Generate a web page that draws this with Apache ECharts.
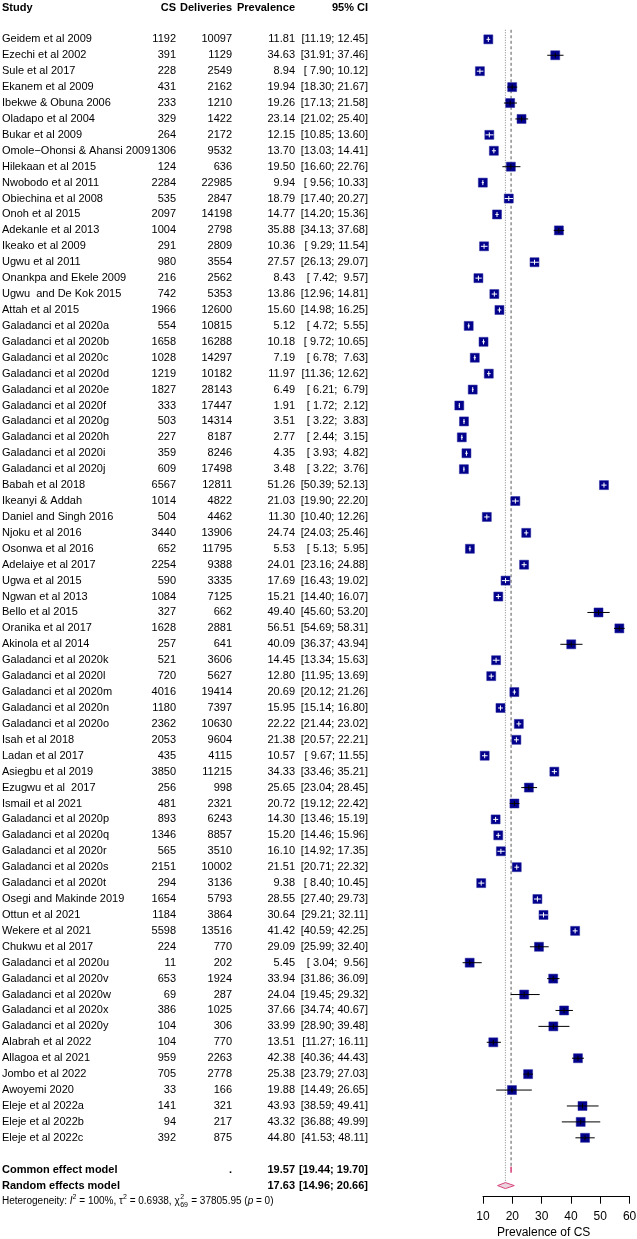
<!DOCTYPE html>
<html><head><meta charset="utf-8">
<script src="https://cdn.jsdelivr.net/npm/echarts@6/dist/echarts.min.js"></script>
<style>html,body{margin:0;padding:0;background:#fff}#c{width:637px;height:1239px}</style>
</head><body><div id="c"></div>
<script>
const studies = ["Geidem et al 2009","Ezechi et al 2002","Sule et al 2017","Ekanem et al 2009","Ibekwe & Obuna 2006","Oladapo et al 2004","Bukar et al 2009","Omole\u2212Ohonsi & Ahansi 2009","Hilekaan et al 2015","Nwobodo et al 2011","Obiechina et al 2008","Onoh et al 2015","Adekanle et al 2013","Ikeako et al 2009","Ugwu et al 2011","Onankpa and Ekele 2009","Ugwu  and De Kok 2015","Attah et al 2015","Galadanci et al 2020a","Galadanci et al 2020b","Galadanci et al 2020c","Galadanci et al 2020d","Galadanci et al 2020e","Galadanci et al 2020f","Galadanci et al 2020g","Galadanci et al 2020h","Galadanci et al 2020i","Galadanci et al 2020j","Babah et al 2018","Ikeanyi & Addah","Daniel and Singh 2016","Njoku et al 2016","Osonwa et al 2016","Adelaiye et al 2017","Ugwa et al 2015","Ngwan et al 2013","Bello et al 2015","Oranika et al 2017","Akinola et al 2014","Galadanci et al 2020k","Galadanci et al 2020l","Galadanci et al 2020m","Galadanci et al 2020n","Galadanci et al 2020o","Isah et al 2018","Ladan et al 2017","Asiegbu et al 2019","Ezugwu et al  2017","Ismail et al 2021","Galadanci et al 2020p","Galadanci et al 2020q","Galadanci et al 2020r","Galadanci et al 2020s","Galadanci et al 2020t","Osegi and Makinde 2019","Ottun et al 2021","Wekere et al 2021","Chukwu et al 2017","Galadanci et al 2020u","Galadanci et al 2020v","Galadanci et al 2020w","Galadanci et al 2020x","Galadanci et al 2020y","Alabrah et al 2022","Allagoa et al 2021","Jombo et al 2022","Awoyemi 2020","Eleje et al 2022a","Eleje et al 2022b","Eleje et al 2022c"];
const csCounts = [1192,391,228,431,233,329,264,1306,124,2284,535,2097,1004,291,980,216,742,1966,554,1658,1028,1219,1827,333,503,227,359,609,6567,1014,504,3440,652,2254,590,1084,327,1628,257,521,720,4016,1180,2362,2053,435,3850,256,481,893,1346,565,2151,294,1654,1184,5598,224,11,653,69,386,104,104,959,705,33,141,94,392];
const deliveries = [10097,1129,2549,2162,1210,1422,2172,9532,636,22985,2847,14198,2798,2809,3554,2562,5353,12600,10815,16288,14297,10182,28143,17447,14314,8187,8246,17498,12811,4822,4462,13906,11795,9388,3335,7125,662,2881,641,3606,5627,19414,7397,10630,9604,4115,11215,998,2321,6243,8857,3510,10002,3136,5793,3864,13516,770,202,1924,287,1025,306,770,2263,2778,166,321,217,875];
const prevalence = [11.81,34.63,8.94,19.94,19.26,23.14,12.15,13.70,19.50,9.94,18.79,14.77,35.88,10.36,27.57,8.43,13.86,15.60,5.12,10.18,7.19,11.97,6.49,1.91,3.51,2.77,4.35,3.48,51.26,21.03,11.30,24.74,5.53,24.01,17.69,15.21,49.40,56.51,40.09,14.45,12.80,20.69,15.95,22.22,21.38,10.57,34.33,25.65,20.72,14.30,15.20,16.10,21.51,9.38,28.55,30.64,41.42,29.09,5.45,33.94,24.04,37.66,33.99,13.51,42.38,25.38,19.88,43.93,43.32,44.80];
const ciLower = [11.19,31.91,7.90,18.30,17.13,21.02,10.85,13.03,16.60,9.56,17.40,14.20,34.13,9.29,26.13,7.42,12.96,14.98,4.72,9.72,6.78,11.36,6.21,1.72,3.22,2.44,3.93,3.22,50.39,19.90,10.40,24.03,5.13,23.16,16.43,14.40,45.60,54.69,36.37,13.34,11.95,20.12,15.14,21.44,20.57,9.67,33.46,23.04,19.12,13.46,14.46,14.92,20.71,8.40,27.40,29.21,40.59,25.99,3.04,31.86,19.45,34.74,28.90,11.27,40.36,23.79,14.49,38.59,36.88,41.53];
const ciUpper = [12.45,37.46,10.12,21.67,21.58,25.40,13.60,14.41,22.76,10.33,20.27,15.36,37.68,11.54,29.07,9.57,14.81,16.25,5.55,10.65,7.63,12.62,6.79,2.12,3.83,3.15,4.82,3.76,52.13,22.20,12.26,25.46,5.95,24.88,19.02,16.07,53.20,58.31,43.94,15.63,13.69,21.26,16.80,23.02,22.21,11.55,35.21,28.45,22.42,15.19,15.96,17.35,22.32,10.45,29.73,32.11,42.25,32.40,9.56,36.09,29.32,40.67,39.48,16.11,44.43,27.03,26.65,49.41,49.99,48.11];
const pooledLabels = ["Common effect model","Random effects model"];
const pooledEst = [19.57, 17.63];
const pooledLower = [19.44, 14.96];
const pooledUpper = [19.70, 20.66];
const headers = ["Study","CS","Deliveries","Prevalence","95% CI"];
const xTickMin = 10, xTickMax = 60, xTickStep = 10;
const xAxisTitle = "Prevalence of CS";

const FAM = '"Liberation Sans", Arial, Helvetica, sans-serif';
const F = 'normal 11px ' + FAM, FB = 'bold 11px ' + FAM;
const COL = {study: 2, cs: 176, del: 232, prev: 295, ci: 368};
const nS = studies.length;
const commonRow = nS + 2, randomRow = nS + 3, hetRow = nS + 4;
const f2 = v => v.toFixed(2);
const pad = v => (v < 10 ? ' ' : '') + f2(v);
const ciText = (l, h) => '[' + pad(l) + '; ' + pad(h) + ']';

const mctx = document.createElement('canvas').getContext('2d');
const tw = (font, s) => { mctx.font = font; return mctx.measureText(s).width; };

function txt(x, y, s, font, align) {
  return {type: 'text', style: {x: x, y: y, text: s, font: font, fill: '#000',
    align: align, textAlign: align, verticalAlign: 'middle', textVerticalAlign: 'middle'}};
}

const tableData = [[0, -1]];
studies.forEach((s, i) => tableData.push([0, i + 1]));
tableData.push([0, commonRow], [0, randomRow], [0, hetRow]);

function renderTable(params, api) {
  const r = api.value(1);
  const y = api.coord([0, r])[1];
  const X = v => api.coord([v, r])[0];
  const k = params.dataIndex;
  const ch = [];
  if (k === 0) {
    ch.push(txt(X(COL.study), y, headers[0], FB, 'left'));
    ch.push(txt(X(COL.cs), y, headers[1], FB, 'right'));
    ch.push(txt(X(COL.del), y, headers[2], FB, 'right'));
    ch.push(txt(X(COL.prev), y, headers[3], FB, 'right'));
    ch.push(txt(X(COL.ci), y, headers[4], FB, 'right'));
  } else if (k <= nS) {
    const i = k - 1;
    ch.push(txt(X(COL.study), y, studies[i], F, 'left'));
    ch.push(txt(X(COL.cs), y, String(csCounts[i]), F, 'right'));
    ch.push(txt(X(COL.del), y, String(deliveries[i]), F, 'right'));
    ch.push(txt(X(COL.prev), y, f2(prevalence[i]), F, 'right'));
    ch.push(txt(X(COL.ci), y, ciText(ciLower[i], ciUpper[i]), F, 'right'));
  } else if (k <= nS + 2) {
    const j = k - nS - 1;
    ch.push(txt(X(COL.study), y, pooledLabels[j], FB, 'left'));
    if (j === 0) ch.push(txt(X(COL.del), y, '.', FB, 'right'));
    ch.push(txt(X(COL.prev), y, f2(pooledEst[j]), FB, 'right'));
    ch.push(txt(X(COL.ci), y, ciText(pooledLower[j], pooledUpper[j]), FB, 'right'));
  } else {
    const n10 = 'normal 10px ' + FAM, i10 = 'italic 10px ' + FAM, s7 = 'normal 7px ' + FAM;
    let x = X(COL.study);
    const seq = [
      ['Heterogeneity: ', n10, 0], ['I', i10, 0], ['2', s7, -4], [' = 100%, \u03c4', n10, 0], ['2', s7, -4],
      [' = 0.6938, \u03c7', n10, 0], ['STACK'], [' = 37805.95 (', n10, 0], ['p', i10, 0], [' = 0)', n10, 0]
    ];
    seq.forEach(p => {
      if (p[0] === 'STACK') {
        ch.push(txt(x + 0.5, y - 4, '2', s7, 'left'));
        ch.push(txt(x + 0.5, y + 3.5, '69', s7, 'left'));
        x += tw(s7, '69') + 1;
      } else {
        ch.push(txt(x, y + p[2], p[0], p[1], 'left'));
        x += tw(p[1], p[0]);
      }
    });
  }
  return {type: 'group', children: ch};
}

const forestData = studies.map((s, i) => [prevalence[i], ciLower[i], ciUpper[i], i + 1]);
function renderForest(params, api) {
  const row = api.value(3);
  const c = api.coord([api.value(0), row]);
  const lo = api.coord([api.value(1), row])[0];
  const hi = api.coord([api.value(2), row])[0];
  const s = 9, h = s / 2;
  const inside = (hi - lo) <= s;
  const col = inside ? '#ffffff' : '#000000';
  return {type: 'group', children: [
    {type: 'rect', shape: {x: c[0] - h, y: c[1] - h, width: s, height: s},
      style: {fill: '#00008B', stroke: 'rgba(40,40,160,0.5)', lineWidth: 1}},
    {type: 'line', shape: {x1: lo, y1: c[1], x2: hi, y2: c[1]}, style: {stroke: col, lineWidth: 1}},
    {type: 'line', shape: {x1: c[0], y1: c[1] - 2.5, x2: c[0], y2: c[1] + 2.5}, style: {stroke: col, lineWidth: 1}}
  ]};
}

const pooledData = pooledEst.map((e, j) => [e, pooledLower[j], pooledUpper[j], commonRow + j]);
function renderPooled(params, api) {
  const row = api.value(3);
  const c = api.coord([api.value(0), row]);
  const lo = api.coord([api.value(1), row])[0];
  const hi = api.coord([api.value(2), row])[0];
  const hh = 3;
  return {type: 'polygon', shape: {points: [[lo, c[1]], [c[0], c[1] - hh], [hi, c[1]], [c[0], c[1] + hh]]},
    style: {fill: '#ead3dc', stroke: '#d8457c', lineWidth: 1}};
}

const refData = pooledEst.map((e, j) => [e, commonRow + j, j]);
function renderRef(params, api) {
  const v = api.value(0), row = api.value(1), kind = api.value(2);
  const x = api.coord([v, 0])[0];
  const yTop = api.coord([v, 0.4])[1];
  const yBot = api.coord([v, row])[1] - 3;
  return {type: 'line', shape: {x1: x, y1: yTop, x2: x, y2: yBot},
    style: kind === 0 ? {stroke: '#555', lineWidth: 1, lineDash: [3, 2.5]} : {stroke: '#888', lineWidth: 1, lineDash: [1, 1.5]}};
}

const chart = echarts.init(document.getElementById('c'), null, {renderer: 'canvas'});
chart.setOption({
  animation: false,
  backgroundColor: '#ffffff',
  grid: [
    {left: 453.7, top: 7.5, width: 175.9, height: 1194, outerBoundsMode: 'none', containLabel: false},
    {left: 483, top: 1195.7, width: 146.6, height: 1, outerBoundsMode: 'none', containLabel: false},
    {left: 0, top: 7.5, width: 637, height: 1194, outerBoundsMode: 'none', containLabel: false}
  ],
  xAxis: [
    {gridIndex: 0, type: 'value', min: 0, max: 60, axisLine: {show: false}, axisTick: {show: false},
      axisLabel: {show: false}, splitLine: {show: false}, name: xAxisTitle, nameLocation: 'middle', nameGap: 25,
      nameTextStyle: {fontSize: 12, color: '#000', fontFamily: FAM, padding: [0, 0, 0, 4]}},
    {gridIndex: 1, type: 'value', min: xTickMin, max: xTickMax, interval: xTickStep,
      axisLine: {show: true, lineStyle: {color: '#000', width: 1}},
      axisTick: {show: true, length: 7, lineStyle: {color: '#000', width: 1}},
      axisLabel: {fontSize: 12, color: '#000', fontFamily: FAM, margin: 14, showMinLabel: true, showMaxLabel: true},
      splitLine: {show: false}},
    {gridIndex: 2, type: 'value', min: 0, max: 637, show: false}
  ],
  yAxis: [
    {gridIndex: 0, type: 'value', min: -1, max: hetRow, inverse: true, show: false},
    {gridIndex: 1, type: 'value', min: 0, max: 1, show: false},
    {gridIndex: 2, type: 'value', min: -1, max: hetRow, inverse: true, show: false}
  ],
  series: [
    {type: 'custom', xAxisIndex: 2, yAxisIndex: 2, clip: false, data: tableData, encode: {x: 0, y: 1}, renderItem: renderTable, silent: true},
    {type: 'custom', xAxisIndex: 0, yAxisIndex: 0, clip: false, data: refData, encode: {x: 0, y: 1}, renderItem: renderRef, silent: true},
    {type: 'custom', xAxisIndex: 0, yAxisIndex: 0, clip: false, data: forestData, encode: {x: [0, 1, 2], y: 3}, renderItem: renderForest, silent: true},
    {type: 'custom', xAxisIndex: 0, yAxisIndex: 0, clip: false, data: pooledData, encode: {x: [0, 1, 2], y: 3}, renderItem: renderPooled, silent: true}
  ]
});
</script>
</body></html>
